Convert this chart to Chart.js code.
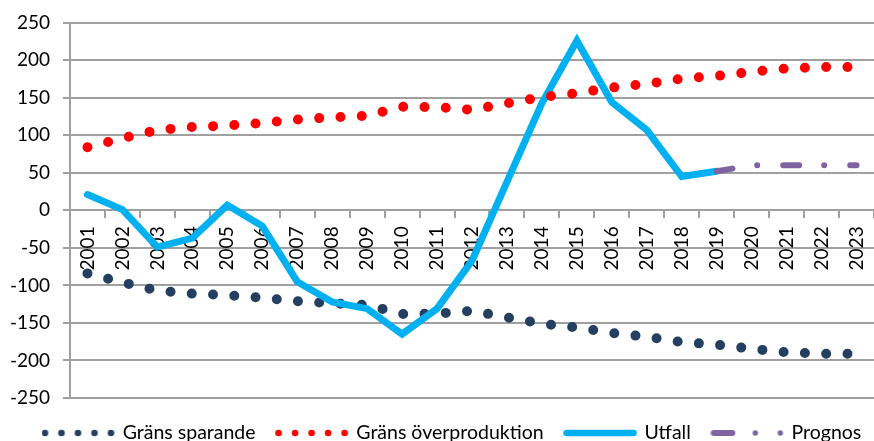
<!DOCTYPE html>
<html><head><meta charset="utf-8">
<script src="https://cdn.jsdelivr.net/npm/chart.js@4.4.0/dist/chart.umd.min.js"></script>
<style>html,body{margin:0;padding:0;background:#fff}#wrap{width:874px;height:441px}</style>
</head><body><div id="wrap"><canvas id="c" width="874" height="441"></canvas></div>
<script>
const years = ['2001','2002','2003','2004','2005','2006','2007','2008','2009','2010','2011','2012','2013','2014','2015','2016','2017','2018','2019','2020','2021','2022','2023'];
const gransOverproduktion = [84, 96, 107, 111, 113, 116.5, 121, 124, 126, 138, 137.5, 134, 142.5, 151, 156, 163.5, 168.5, 175.5, 179, 184.5, 189, 191, 191];
const gransSparande = [-84, -96, -107, -111, -113, -116.5, -121, -124, -126, -138, -137.5, -134, -142.5, -151, -156, -163.5, -168.5, -175.5, -179, -184.5, -189, -191, -191];
const utfall = [21, 1, -49, -37, 7, -21, -95, -122, -131, -165, -131, -67, 38, 143, 226, 144, 107, 45, 52, null, null, null, null];
const prognos = [null, null, null, null, null, null, null, null, null, null, null, null, null, null, null, null, null, null, 52, 60, 60, 60, 60];
const yMin = -250, yMax = 250, yStep = 50;

const NAVY = '#243F60', RED = '#FF0000', BLUE = '#00B0F0', PURPLE = '#8064A2';
const GRID = '#A0A0A0';
const TICK_FONT = {family: 'Lato', size: 19};
const LEGEND_FONT = {family: 'Lato', size: 19.5};

function mk(w, h) { const c = document.createElement('canvas'); c.width = w; c.height = h; return c; }
function dotsSample(color) {
  const c = mk(74, 10), g = c.getContext('2d');
  g.fillStyle = color;
  [3.5, 20, 36.5, 53, 69.5].forEach(x => { g.beginPath(); g.arc(x, 5, 3.3, 0, Math.PI * 2); g.fill(); });
  return c;
}
function lineSample(color) {
  const c = mk(74, 10), g = c.getContext('2d');
  g.strokeStyle = color; g.lineWidth = 6.5; g.lineCap = 'round';
  g.beginPath(); g.moveTo(3.5, 5); g.lineTo(70.5, 5); g.stroke();
  return c;
}
function dashDotSample(color) {
  const c = mk(74, 10), g = c.getContext('2d');
  g.strokeStyle = color; g.fillStyle = color; g.lineWidth = 6; g.lineCap = 'round';
  g.beginPath(); g.moveTo(3.5, 5); g.lineTo(22, 5); g.stroke();
  [45, 70].forEach(x => { g.beginPath(); g.arc(x, 5, 2.7, 0, Math.PI * 2); g.fill(); });
  return c;
}
const samples = [dotsSample(NAVY), dotsSample(RED), lineSample(BLUE), dashDotSample(PURPLE)];
const legendNames = ['Gräns sparande', 'Gräns överproduktion', 'Utfall', 'Prognos'];
const legendDs = [3, 0, 2, 1];

const legendShift = {
  id: 'legendShift',
  afterLayout(chart) { if (chart.legend) { chart.legend.left += 22; chart.legend.right += 22; } }
};

new Chart(document.getElementById('c'), {
  type: 'line',
  data: {
    labels: years,
    datasets: [
      {label: legendNames[1], data: gransOverproduktion, borderColor: RED, borderWidth: 10, borderDash: [0, 21.3], borderCapStyle: 'round', pointRadius: 0, tension: 0, fill: false},
      {label: legendNames[3], data: prognos, borderColor: PURPLE, borderWidth: 6, borderDash: [16, 25, 0.01, 26], borderCapStyle: 'round', pointRadius: 0, tension: 0, fill: false},
      {label: legendNames[2], data: utfall, borderColor: BLUE, borderWidth: 7, borderCapStyle: 'round', borderJoinStyle: 'miter', pointRadius: 0, tension: 0, fill: false},
      {label: legendNames[0], data: gransSparande, borderColor: NAVY, borderWidth: 10, borderDash: [0, 21.3], borderCapStyle: 'round', pointRadius: 0, tension: 0, fill: false}
    ]
  },
  plugins: [legendShift],
  options: {
    responsive: false, animation: false, devicePixelRatio: 1,
    layout: {padding: {left: 0, right: 0, top: 22.7, bottom: -11.75}},
    plugins: {
      tooltip: {enabled: false},
      legend: {
        position: 'bottom', align: 'start',
        labels: {
          usePointStyle: true, pointStyleWidth: 69, padding: 22, color: '#000', font: LEGEND_FONT,
          generateLabels: () => legendNames.map((t, i) => ({
            text: t, pointStyle: samples[i], datasetIndex: legendDs[i], hidden: false,
            fillStyle: 'rgba(0,0,0,0)', strokeStyle: 'rgba(0,0,0,0)', lineWidth: 0, fontColor: '#000'
          }))
        }
      }
    },
    scales: {
      x: {
        position: {y: 0}, offset: true,
        grid: {offset: true, drawOnChartArea: false, drawTicks: true, tickLength: 7, color: GRID, lineWidth: 2},
        border: {display: true, color: GRID, width: 2},
        ticks: {minRotation: 90, maxRotation: 90, autoSkip: false, padding: 9, color: '#000', font: TICK_FONT},
        afterFit: s => { s.paddingLeft = 0; s.paddingRight = 0; }
      },
      xSpacer: {
        type: 'category', position: 'bottom', offset: true,
        grid: {display: false, drawTicks: false}, border: {display: false}, ticks: {display: false},
        afterFit: s => { s.height = 3.25; s.paddingLeft = 0; s.paddingRight = 0; }
      },
      y: {
        min: yMin, max: yMax,
        grid: {color: GRID, lineWidth: 2, tickLength: 7, drawTicks: true},
        border: {display: true, color: GRID, width: 2},
        ticks: {stepSize: yStep, padding: 13, crossAlign: 'near', color: '#000', font: TICK_FONT},
        afterFit: s => { s.width = 70; s.paddingTop = 0; s.paddingBottom = 0; }
      }
    }
  }
});
</script></body></html>
